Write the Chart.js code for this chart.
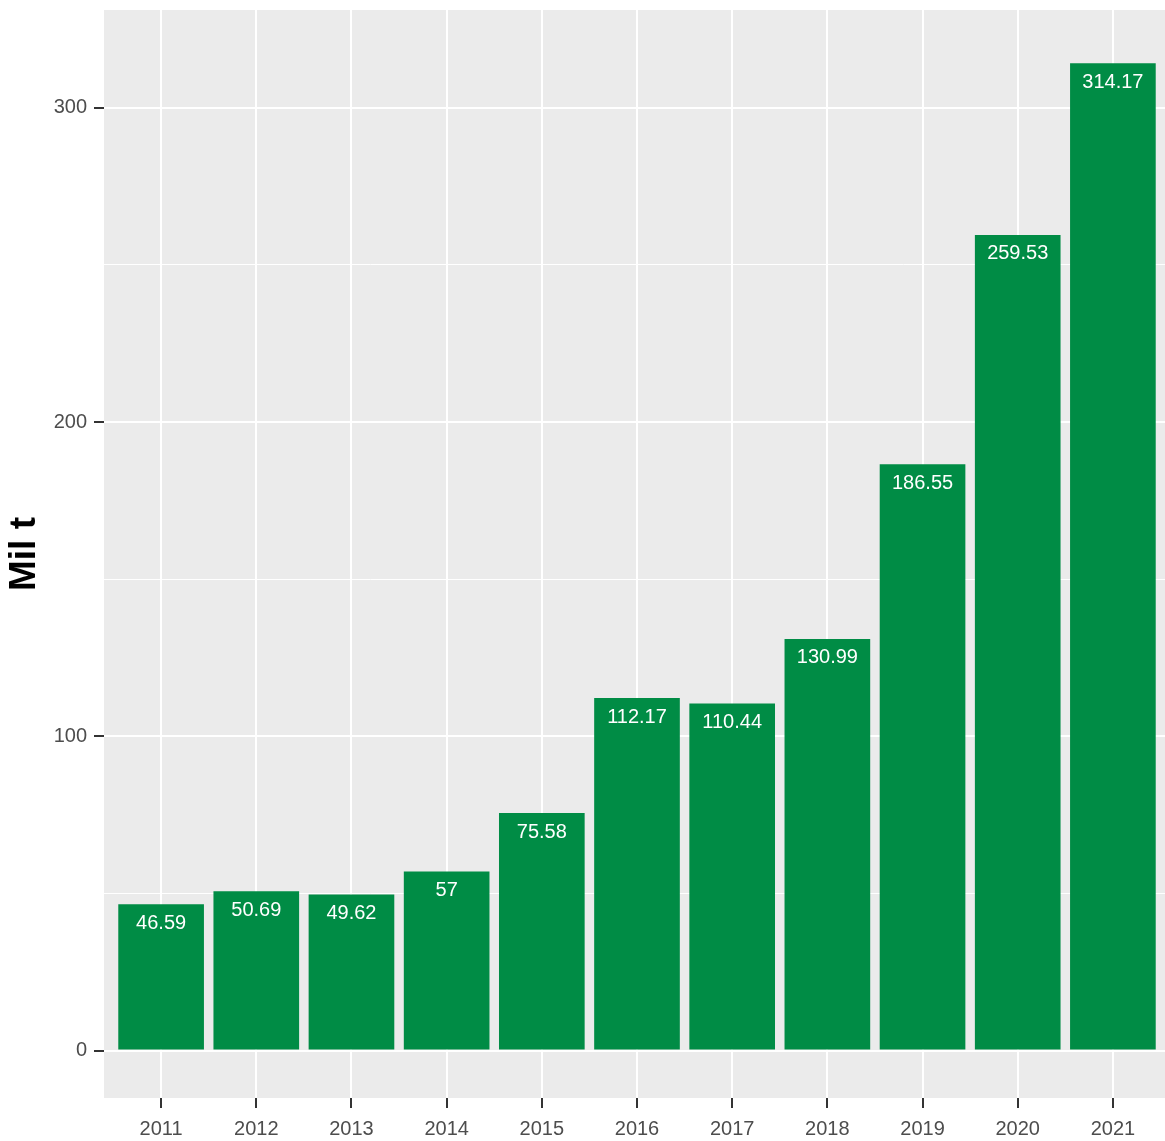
<!DOCTYPE html>
<html>
<head>
<meta charset="utf-8">
<script src="https://cdn.jsdelivr.net/npm/chart.js@4/dist/chart.umd.min.js"></script>
<style>
  html, body { margin: 0; padding: 0; background: #fff; overflow: hidden; }
  /* Chart.js keeps ~18px above the plot; pull the canvas up so the panel starts at 9px */
  canvas { display: block; margin-top: -9px; }
</style>
</head>
<body>
<canvas id="chart" width="1170" height="1150"></canvas>
<script>
const years = ["2011", "2012", "2013", "2014", "2015", "2016", "2017", "2018", "2019", "2020", "2021"];
const values = [46.59, 50.69, 49.62, 57, 75.58, 112.17, 110.44, 130.99, 186.55, 259.53, 314.17];
const yTicks = [0, 50, 100, 150, 200, 250, 300];
const yLabels = [0, 100, 200, 300];
const yMin = -15.1, yMax = 331.1;

const font = '"Liberation Sans", Arial, sans-serif';

// grey panel behind the grid, like ggplot
const panelBg = {
    id: "panelBg",
    beforeDraw(chart) {
        const { ctx, chartArea: a } = chart;
        ctx.save();
        ctx.fillStyle = "#EBEBEB";
        ctx.fillRect(a.left, a.top, a.right - a.left, a.bottom - a.top);
        ctx.restore();
    }
};

// value labels just under the top of each bar
const barLabels = {
    id: "barLabels",
    afterDatasetsDraw(chart) {
        const ctx = chart.ctx;
        const meta = chart.getDatasetMeta(0);
        ctx.save();
        ctx.fillStyle = "#FFFFFF";
        ctx.font = "20px " + font;
        ctx.textAlign = "center";
        ctx.textBaseline = "middle";
        meta.data.forEach((bar, i) => {
            ctx.fillText(String(values[i]), bar.x, bar.y + 19);
        });
        ctx.restore();
    }
};

new Chart(document.getElementById("chart"), {
    type: "bar",
    data: {
        datasets: [{
            data: values.map((v, i) => ({ x: i + 1, y: v })),
            backgroundColor: "#008C45",
            borderWidth: 0,
            barPercentage: 0.9,
            categoryPercentage: 1.0
        }]
    },
    options: {
        responsive: false,
        devicePixelRatio: 1,
        animation: false,
        layout: { padding: { top: 9, left: 0, right: 0, bottom: 0 } },
        plugins: { legend: { display: false }, tooltip: { enabled: false } },
        scales: {
            x: {
                type: "linear",
                offset: false,
                min: 0.4,
                max: 11.6,
                afterBuildTicks: s => { s.ticks = years.map((_, i) => ({ value: i + 1 })); },
                afterFit: s => { s.height = 43; },
                border: { display: false },
                grid: {
                    offset: false,
                    color: "#FFFFFF",
                    lineWidth: 2,
                    tickColor: "#333333",
                    tickWidth: 2,
                    tickLength: 10
                },
                ticks: {
                    autoSkip: false,
                    maxRotation: 0,
                    padding: 9,
                    color: "#4D4D4D",
                    font: { family: font, size: 20 },
                    callback: v => years[v - 1]
                }
            },
            y: {
                min: yMin,
                max: yMax,
                afterBuildTicks: s => { s.ticks = yTicks.concat([yMax]).map(v => ({ value: v })); },
                afterFit: s => { s.width = 104; },
                border: { display: false },
                grid: {
                    color: ctx => (yTicks.includes(ctx.tick.value) ? "#FFFFFF" : "rgba(0,0,0,0)"),
                    lineWidth: ctx => (yLabels.includes(ctx.tick.value) ? 2 : 1),
                    tickColor: ctx => (yLabels.includes(ctx.tick.value) ? "#333333" : "rgba(0,0,0,0)"),
                    tickWidth: 2,
                    tickLength: 10
                },
                ticks: {
                    padding: 7,
                    color: "#4D4D4D",
                    font: { family: font, size: 20 },
                    callback: v => (yLabels.includes(v) ? String(v) : (yTicks.includes(v) ? "" : null))
                },
                title: {
                    display: true,
                    text: "Mil t",
                    color: "#000000",
                    font: { family: font, size: 37, weight: "bold" },
                    padding: { top: 3, bottom: 4 }
                }
            }
        }
    },
    plugins: [panelBg, barLabels]
});
</script>
</body>
</html>
